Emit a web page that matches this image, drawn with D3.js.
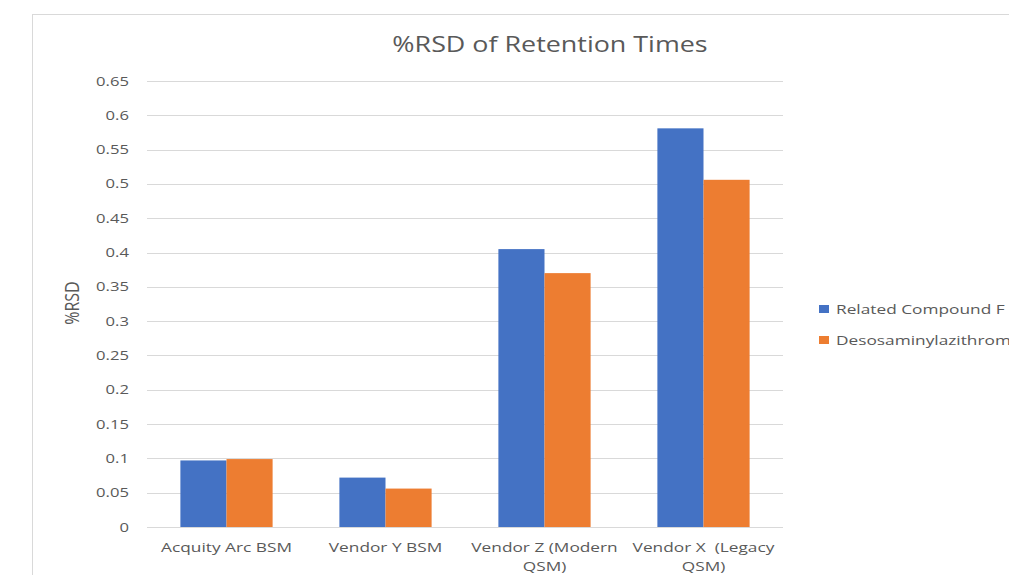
<!DOCTYPE html>
<html>
<head>
<meta charset="utf-8">
<script src="https://cdn.jsdelivr.net/npm/d3@7"></script>
<style>
  body { margin: 0; background: #fff; }
  text { font-family: "Open Sans", "Noto Sans", sans-serif; fill: #595959; }
</style>
</head>
<body>
<div id="chart"></div>
<script>
const categories = ["Acquity Arc BSM", "Vendor Y BSM", "Vendor Z (Modern QSM)", "Vendor X  (Legacy QSM)"];
const seriesNames = ["Related Compound F", "Desosaminylazithromycin"];
const relatedF = [0.097, 0.072, 0.405, 0.581];
const desosaminyl = [0.099, 0.056, 0.370, 0.506];
const yTicks = [0, 0.05, 0.1, 0.15, 0.2, 0.25, 0.3, 0.35, 0.4, 0.45, 0.5, 0.55, 0.6, 0.65];
const colors = ["#4472c4", "#ed7d31"];

// the source picture is stretched sideways, so the text is too
const sx = 1.28;

const drawChart = () => {
  const width = 1009;
  const height = 575;
  const plot = { left: 147, right: 783, top: 81, bottom: 527 };

  const svg = d3.select("#chart").append("svg")
    .attr("width", width)
    .attr("height", height);

  // chart frame (only top and left visible)
  svg.append("rect")
    .attr("x", 32.5).attr("y", 14.5)
    .attr("width", 1100).attr("height", 700)
    .attr("fill", "none")
    .attr("stroke", "#d9d9d9");

  const label = (x, y, size, anchor, str) =>
    svg.append("g")
      .attr("transform", `translate(${x},${y}) scale(${sx},1)`)
      .append("text")
      .attr("text-anchor", anchor)
      .style("font-size", size + "px")
      .style("white-space", "pre")
      .text(str);

  const x = d3.scaleBand().domain(categories).range([plot.left, plot.right]).paddingInner(0.42).paddingOuter(0.21);
  const x1 = d3.scaleBand().domain(seriesNames).range([0, x.bandwidth()]);
  const y = d3.scaleLinear().domain([0, 0.65]).range([plot.bottom, plot.top]);

  // gridlines
  svg.append("g")
    .selectAll("line")
    .data(yTicks)
    .join("line")
    .attr("x1", plot.left).attr("x2", plot.right)
    .attr("y1", d => Math.round(y(d)) + 0.5).attr("y2", d => Math.round(y(d)) + 0.5)
    .attr("stroke", "#d9d9d9");

  // y tick labels
  yTicks.forEach(d => {
    label(129, y(d), 13, "end", d3.format("~g")(d)).attr("dy", "0.35em");
  });

  const rows = categories.map((c, i) => ({ cat: c, vals: [relatedF[i], desosaminyl[i]] }));

  svg.append("g")
    .selectAll("g")
    .data(rows)
    .join("g")
    .attr("transform", d => `translate(${x(d.cat)},0)`)
    .selectAll("rect")
    .data(d => d.vals.map((v, j) => ({ name: seriesNames[j], v, j })))
    .join("rect")
    .attr("x", d => x1(d.name))
    .attr("y", d => y(d.v))
    .attr("width", x1.bandwidth())
    .attr("height", d => y(0) - y(d.v))
    .attr("fill", d => colors[d.j]);

  // x labels with wrapping
  const maxW = x.step() - 4;
  categories.forEach(c => {
    const t = label(x(c) + x.bandwidth() / 2, 552, 13.5, "middle", null);
    const words = c.split(" ");
    let line = [];
    let tspan = t.append("tspan").attr("x", 0).attr("dy", 0);
    words.forEach(w => {
      line.push(w);
      tspan.text(line.join(" "));
      if (tspan.node().getComputedTextLength() * sx > maxW && line.length > 1) {
        line.pop();
        tspan.text(line.join(" ").trim());
        line = [w];
        tspan = t.append("tspan").attr("x", 0).attr("dy", "1.4em").text(w);
      }
    });
  });

  // y axis title
  svg.append("g")
    .attr("transform", `translate(79,303) scale(${sx},1) rotate(-90)`)
    .append("text")
    .attr("text-anchor", "middle")
    .style("font-size", "16px")
    .text("%RSD");

  // title
  label(550, 52, 21, "middle", "%RSD of Retention Times");

  // legend
  const legend = svg.append("g").attr("transform", "translate(819,305)");
  legend.selectAll("rect")
    .data(seriesNames)
    .join("rect")
    .attr("x", 0)
    .attr("y", (d, i) => i * 31)
    .attr("width", 10).attr("height", 8)
    .attr("fill", (d, i) => colors[i]);
  seriesNames.forEach((d, i) => {
    label(836, 305 + i * 31 + 4, 13.5, "start", d).attr("dy", "0.35em");
  });
};

drawChart();
</script>
</body>
</html>
